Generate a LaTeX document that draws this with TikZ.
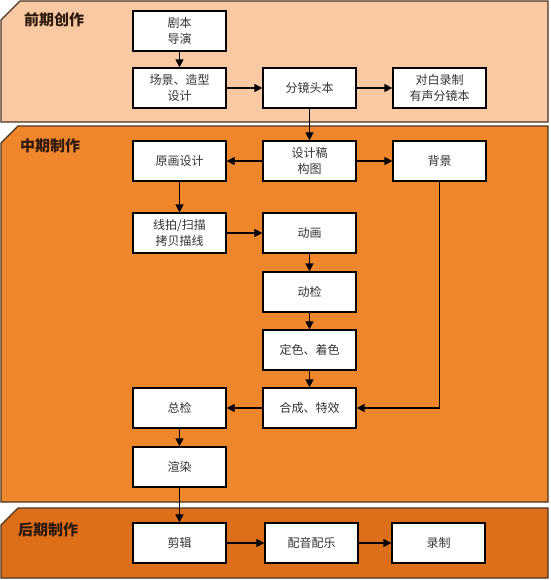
\documentclass[tikz,border=0pt]{standalone}
\usepackage{fontspec}
\setmainfont{Noto Sans CJK SC}
\newfontfamily\cjk{Noto Sans CJK SC}
\usetikzlibrary{arrows.meta}
\definecolor{pone}{HTML}{F9C9A3}
\definecolor{ptwo}{HTML}{F0862C}
\definecolor{pthree}{HTML}{DD6E1A}
\definecolor{pborder}{HTML}{4A3522}
\definecolor{ttext}{HTML}{2E1A0C}
\definecolor{btext}{HTML}{333333}
\begin{document}
\begin{tikzpicture}[x=1pt,y=-1pt,
  panel/.style={draw=pborder,line width=1.2pt},
  ptitle/.style={font=\cjk\fontsize{15}{18}\selectfont\bfseries,text=ttext,anchor=center},
  stepbox/.style={draw=black,line width=1.3pt,fill=white,minimum width=93pt,minimum height=40pt,
    inner sep=0pt,align=center,font=\cjk\fontsize{12}{16}\selectfont,text=btext},
  arr/.style={draw=black,line width=1.3pt,-{Triangle[length=8pt,width=8pt]}}
]
\useasboundingbox (0,0) rectangle (550,580);
% panels
\fill[white] (0,0) rectangle (550,580);
\draw[panel,fill=pone] (20,1) -- (548,1) -- (548,122) -- (1,122) -- (1,20) -- cycle;
\draw[panel,fill=ptwo] (18,126) -- (548,126) -- (548,502) -- (1,502) -- (1,143) -- cycle;
\draw[panel,fill=pthree] (18,508) -- (548,508) -- (548,578) -- (1,578) -- (1,525) -- cycle;
\node[ptitle] (t1) at (54,20) {前期创作};
\node[ptitle] (t2) at (50,146) {中期制作};
\node[ptitle] (t3) at (48,530) {后期制作};
% boxes
\node[stepbox] (jb) at (179.5,31) {剧本\\导演};
\node[stepbox] (cj) at (179.5,88) {场景、造型\\设计};
\node[stepbox] (fj) at (309.5,88) {分镜头本};
\node[stepbox] (db) at (439.5,88) {对白录制\\有声分镜本};
\node[stepbox] (yh) at (179.5,161) {原画设计};
\node[stepbox] (sj) at (309.5,161) {设计稿\\构图};
\node[stepbox] (bj) at (439.5,161) {背景};
\node[stepbox] (xp) at (179.5,233) {线拍/扫描\\拷贝描线};
\node[stepbox] (dh) at (309.5,233) {动画};
\node[stepbox] (dj) at (309.5,292) {动检};
\node[stepbox] (ds) at (309.5,350) {定色、着色};
\node[stepbox] (hc) at (309.5,408) {合成、特效};
\node[stepbox] (zj) at (179.5,408) {总检};
\node[stepbox] (xr) at (179.5,467) {渲染};
\node[stepbox] (jj) at (179.5,543) {剪辑};
\node[stepbox] (py) at (311.5,543) {配音配乐};
\node[stepbox] (lz) at (438.5,543) {录制};
% connectors
\draw[arr] (jb) -- (cj);
\draw[arr] (cj) -- (fj);
\draw[arr] (fj) -- (db);
\draw[arr] (fj) -- (sj);
\draw[arr] (sj) -- (yh);
\draw[arr] (sj) -- (bj);
\draw[arr] (yh) -- (xp);
\draw[arr] (xp) -- (dh);
\draw[arr] (dh) -- (dj);
\draw[arr] (dj) -- (ds);
\draw[arr] (ds) -- (hc);
\draw[arr] (bj.south) |- (hc.east);
\draw[arr] (hc) -- (zj);
\draw[arr] (zj) -- (xr);
\draw[arr] (xr) -- (jj);
\draw[arr] (jj) -- (py);
\draw[arr] (py) -- (lz);
\end{tikzpicture}
\end{document}
